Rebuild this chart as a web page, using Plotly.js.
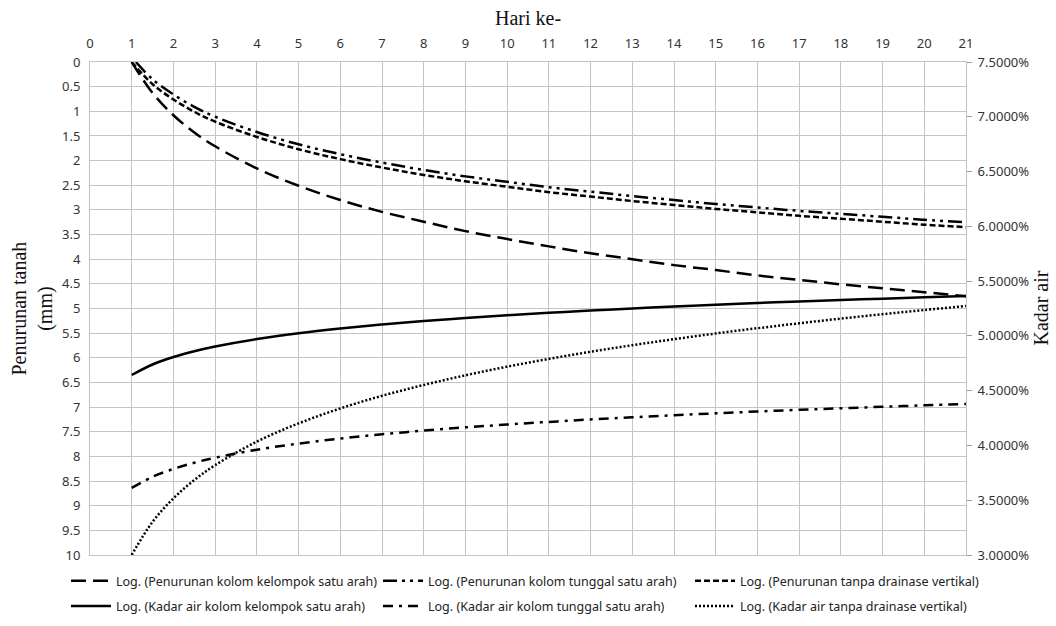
<!DOCTYPE html>
<html>
<head>
<meta charset="utf-8">
<script src="https://cdn.plot.ly/plotly-3.0.1.min.js"></script>
<style>html,body{margin:0;padding:0;background:#fff}#chart{width:1056px;height:626px}</style>
</head>
<body>
<div id="chart"></div>
<script>
// Day values (Hari ke-)
const days = [1, 1.5, 2, 2.5, 3, 4, 5, 6, 7, 8, 9, 10, 11, 12, 13, 14, 15, 16, 17, 18, 19, 20, 21];
const daysTunggal = [1.1, 1.5, 2, 2.5, 3, 4, 5, 6, 7, 8, 9, 10, 11, 12, 13, 14, 15, 16, 17, 18, 19, 20, 21];

// Penurunan tanah (mm) — left axis
const penKelompok = [0, 0.63, 1.08, 1.43, 1.71, 2.16, 2.51, 2.80, 3.04, 3.24, 3.43, 3.59, 3.74, 3.88, 4.00, 4.12, 4.22, 4.33, 4.42, 4.51, 4.59, 4.67, 4.75];
const penTunggal  = [0.0, 0.35, 0.66, 0.91, 1.11, 1.42, 1.67, 1.87, 2.04, 2.19, 2.32, 2.43, 2.54, 2.63, 2.72, 2.80, 2.88, 2.95, 3.02, 3.08, 3.14, 3.20, 3.25];
const penTanpa    = [0, 0.45, 0.76, 1.01, 1.21, 1.52, 1.77, 1.97, 2.14, 2.29, 2.42, 2.53, 2.64, 2.73, 2.82, 2.90, 2.98, 3.05, 3.12, 3.18, 3.24, 3.30, 3.35];

// Kadar air (%) — right axis
const kaKelompok = [4.643, 4.739, 4.807, 4.860, 4.903, 4.971, 5.024, 5.067, 5.104, 5.135, 5.163, 5.188, 5.211, 5.231, 5.250, 5.268, 5.284, 5.300, 5.314, 5.327, 5.340, 5.352, 5.364];
const kaTunggal  = [3.612, 3.714, 3.786, 3.842, 3.888, 3.961, 4.017, 4.063, 4.102, 4.135, 4.165, 4.191, 4.215, 4.237, 4.257, 4.276, 4.293, 4.310, 4.325, 4.339, 4.353, 4.366, 4.378];
const kaTanpa    = [3.000, 3.303, 3.517, 3.684, 3.820, 4.035, 4.201, 4.338, 4.453, 4.552, 4.640, 4.719, 4.790, 4.855, 4.915, 4.970, 5.022, 5.070, 5.115, 5.158, 5.198, 5.236, 5.273];

const names = [
  'Log. (Penurunan kolom kelompok satu arah)',
  'Log. (Penurunan kolom tunggal satu arah)',
  'Log. (Penurunan tanpa drainase vertikal)',
  'Log. (Kadar air kolom kelompok satu arah)',
  'Log. (Kadar air kolom tunggal satu arah)',
  'Log. (Kadar air tanpa drainase vertikal)'
];
const xTitle = 'Hari ke-';
const yTitle = 'Penurunan tanah<br>(mm)';
const y2Title = 'Kadar air';

const lw = 2.5;
function tr(x, y, name, dash, yaxis, legend, group) {
  return {
    x: x, y: y, name: name, type: 'scatter', mode: 'lines',
    yaxis: yaxis, legend: legend, legendgroup: group,
    line: {color: '#000', width: lw, dash: dash, shape: 'spline', smoothing: 1},
    hoverinfo: 'x+y+name'
  };
}

const data = [
  tr(days, penKelompok, names[0], '15px,7px', 'y', 'legend', 'a'),
  tr(days, kaKelompok, names[3], 'solid', 'y2', 'legend', 'b'),
  tr(daysTunggal, penTunggal, names[1], '14px,5px,3px,5px,3px,5px', 'y', 'legend2', 'c'),
  tr(days, kaTunggal, names[4], '10px,6px,3px,6px', 'y2', 'legend2', 'd'),
  tr(days, penTanpa, names[2], '6px,3px', 'y', 'legend3', 'e'),
  tr(days, kaTanpa, names[5], '2px,2px', 'y2', 'legend3', 'f')
];

const tickFont = {family: 'Noto Sans, sans-serif', size: 13, color: '#333'};
const titleFont = {family: 'Liberation Serif, Times New Roman, serif', size: 20, color: '#111'};
const legFont = {family: 'Noto Sans, sans-serif', size: 12.5, color: '#222'};
const grid = '#c4c4c4';

function leg(x) {
  return {
    x: x, xref: 'container', xanchor: 'left',
    y: 1 - 566/626, yref: 'container', yanchor: 'top',
    orientation: 'v', font: legFont, bgcolor: 'rgba(0,0,0,0)',
    borderwidth: 0, tracegroupgap: 6, itemwidth: 40
  };
}

const layout = {
  width: 1056, height: 626,
  margin: {l: 90, r: 90, t: 62, b: 71, autoexpand: false},
  paper_bgcolor: '#fff', plot_bgcolor: '#fff',
  showlegend: true,
  xaxis: {
    side: 'top', range: [0, 21], dtick: 1, tick0: 0,
    showgrid: true, gridcolor: grid, gridwidth: 1,
    showline: true, linecolor: grid, mirror: true,
    zeroline: false, ticks: '', tickfont: tickFont, automargin: false,
    ticklabelstandoff: 8
  },
  yaxis: {
    range: [10, 0], dtick: 0.5, tick0: 0,
    showgrid: true, gridcolor: grid, gridwidth: 1,
    showline: true, linecolor: grid, mirror: true,
    zeroline: false, ticks: '', tickfont: tickFont, automargin: false,
    ticklabelstandoff: 6
  },
  yaxis2: {
    overlaying: 'y', side: 'right', range: [3, 7.5], dtick: 0.5, tick0: 3,
    showgrid: false, zeroline: false, showline: false, automargin: false,
    ticks: 'outside', ticklen: 5, tickcolor: '#999', tickwidth: 1,
    tickformat: '.4f', ticksuffix: '%', tickfont: tickFont,
    ticklabelstandoff: 3
  },
  annotations: [
    {text: xTitle, xref: 'paper', yref: 'paper', x: 0.5, y: 1 + (62 - 18) / 493,
     xanchor: 'center', yanchor: 'middle', showarrow: false, font: titleFont},
    {text: yTitle, xref: 'paper', yref: 'paper', x: (32 - 90) / 876, y: 0.5,
     xanchor: 'center', yanchor: 'middle', showarrow: false, textangle: -90, font: titleFont},
    {text: y2Title, xref: 'paper', yref: 'paper', x: (1040 - 90) / 876, y: 0.5,
     xanchor: 'center', yanchor: 'middle', showarrow: false, textangle: -90, font: titleFont}
  ],
  legend: leg(66/1056),
  legend2: leg(378/1056),
  legend3: leg(690/1056)
};

Plotly.newPlot('chart', data, layout, {displayModeBar: false, staticPlot: true});
</script>
</body>
</html>
